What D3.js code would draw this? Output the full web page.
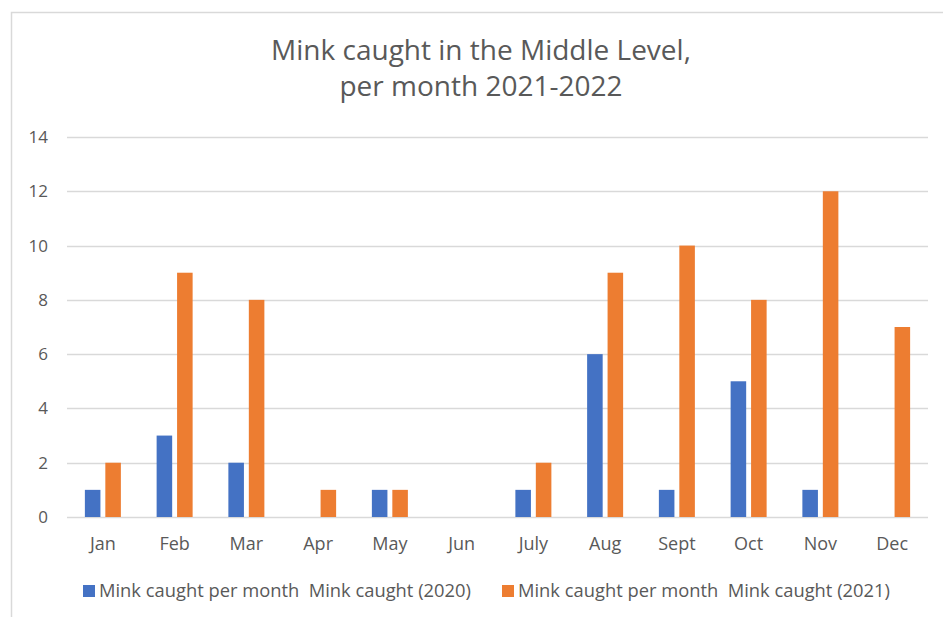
<!DOCTYPE html>
<html>
<head>
<meta charset="utf-8">
<script src="https://cdn.jsdelivr.net/npm/d3@7"></script>
<style>
  body { margin: 0; background: #fff; }
  text { font-family: "Open Sans", "Noto Sans", sans-serif; fill: #595959; }
</style>
</head>
<body>
<div id="chart"></div>
<script>
// months and the two series
const months = ["Jan", "Feb", "Mar", "Apr", "May", "Jun", "July", "Aug", "Sept", "Oct", "Nov", "Dec"];
const series = ["Mink caught per month  Mink caught (2020)", "Mink caught per month  Mink caught (2021)"];
const caught2020 = [1, 3, 2, 0, 1, 0, 1, 6, 1, 5, 1, 0];
const caught2021 = [2, 9, 8, 1, 1, 0, 2, 9, 10, 8, 12, 7];
const yTicks = [0, 2, 4, 6, 8, 10, 12, 14];
const colors = ["#4472C4", "#ED7D31"];

function drawChart() {
    const width = 943;
    const height = 617;

    const svg = d3.select("#chart")
        .append("svg")
        .attr("width", width)
        .attr("height", height);

    // chart frame (only top and left edges show in the picture)
    svg.append("rect")
        .attr("x", 11.5).attr("y", 12.5)
        .attr("width", width).attr("height", height)
        .attr("fill", "#fff")
        .attr("stroke", "#d9d9d9")
        .attr("stroke-width", 1.5);

    // title
    const title = svg.append("text")
        .attr("text-anchor", "middle")
        .style("font-size", "28px");
    title.append("tspan").attr("x", 481).attr("y", 60).text("Mink caught in the Middle Level,");
    title.append("tspan").attr("x", 481).attr("y", 96).text("per month 2021-2022");

    const left = 67, right = 928, top = 137, bottom = 517;

    const y = d3.scaleLinear().domain([0, 14]).range([bottom, top]);
    const x0 = d3.scaleBand().domain(months).range([left, right]);
    const bw = x0.bandwidth();
    const x1 = d3.scaleBand().domain([0, 1])
        .range([bw / 2 - 18, bw / 2 + 18])
        .paddingInner(0.24);

    // gridlines
    svg.append("g")
        .selectAll("line")
        .data(yTicks)
        .enter().append("line")
        .attr("x1", left).attr("x2", right)
        .attr("y1", function(d) { return Math.round(y(d)) + 0.5; })
        .attr("y2", function(d) { return Math.round(y(d)) + 0.5; })
        .attr("stroke", "#d9d9d9")
        .attr("stroke-width", 1.5);

    // y axis labels
    svg.append("g")
        .selectAll("text")
        .data(yTicks)
        .enter().append("text")
        .attr("x", 48)
        .attr("y", function(d) { return y(d) + 6; })
        .attr("text-anchor", "end")
        .style("font-size", "17px")
        .text(function(d) { return d; });

    // bars
    const rows = months.map(function(m, i) {
        return { month: m, values: [caught2020[i], caught2021[i]] };
    });

    const groups = svg.append("g")
        .selectAll("g")
        .data(rows)
        .enter().append("g")
        .attr("transform", function(d) { return "translate(" + x0(d.month) + ",0)"; });

    groups.selectAll("rect")
        .data(function(d) { return d.values.map(function(v, k) { return { k: k, v: v }; }); })
        .enter().append("rect")
        .attr("x", function(d) { return x1(d.k); })
        .attr("width", x1.bandwidth())
        .attr("y", function(d) { return y(d.v); })
        .attr("height", function(d) { return y(0) - y(d.v); })
        .attr("fill", function(d) { return colors[d.k]; });

    // month labels
    svg.append("g")
        .selectAll("text")
        .data(months)
        .enter().append("text")
        .attr("x", function(d) { return x0(d) + bw / 2; })
        .attr("y", 550)
        .attr("text-anchor", "middle")
        .style("font-size", "18px")
        .text(function(d) { return d; });

    // legend
    const legendX = [83, 502];
    const legendW = 372;
    const legend = svg.append("g")
        .selectAll("g")
        .data(series)
        .enter().append("g")
        .attr("transform", function(d, i) { return "translate(" + legendX[i] + ",585)"; });

    legend.append("rect")
        .attr("width", 12).attr("height", 12)
        .attr("fill", function(d, i) { return colors[i]; });

    legend.append("text")
        .attr("x", 16)
        .attr("y", 12)
        .style("white-space", "pre")
        .style("font-size", "17px")
        .text(function(d) { return d; })
        .each(function() {
            // size the font so the label spans the same width as in the picture
            const w = this.getComputedTextLength();
            d3.select(this).style("font-size", Math.min(19, 17 * legendW / w) + "px");
        });
}

document.addEventListener("DOMContentLoaded", drawChart);
</script>
</body>
</html>
